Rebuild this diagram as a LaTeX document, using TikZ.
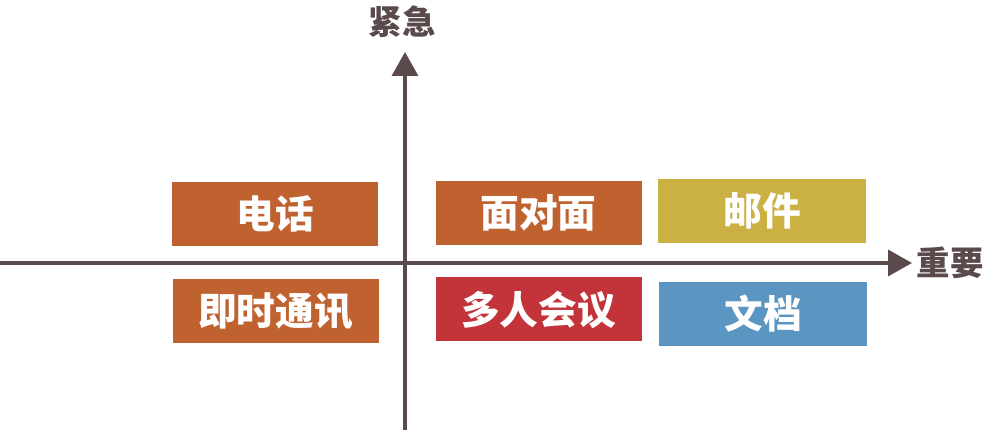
\documentclass[tikz,border=0pt]{standalone}
\usepackage{fontspec}
\setmainfont{Noto Sans CJK SC}
\usepackage{tikz}
\usetikzlibrary{arrows.meta}

\definecolor{axiscol}{HTML}{5A4A4C}
\definecolor{orangebox}{HTML}{C0622F}
\definecolor{redbox}{HTML}{C2343A}
\definecolor{yellowbox}{HTML}{CBB043}
\definecolor{bluebox}{HTML}{5B95C2}

\begin{document}
\begin{tikzpicture}[
	axis/.style={color=axiscol, line width=2pt, -{Triangle[length=0.48cm, width=0.52cm]}},
	axislabel/.style={text=axiscol, font=\fontsize{19pt}{19pt}\selectfont\bfseries},
	tag/.style={minimum width=4.12cm, minimum height=1.28cm, inner sep=0pt, text=white, font=\fontsize{22pt}{22pt}\selectfont\bfseries}]
	\useasboundingbox (0, 0) rectangle (20, 8.6);
	% axes
	\coordinate (ybot) at (8.1, 0);
	\coordinate (ytop) at (8.1, 7.56);
	\coordinate (xleft) at (0, 3.34);
	\coordinate (xright) at (18.24, 3.34);
	\draw [axis] (ybot) -- (ytop);
	\draw [axis] (xleft) -- (xright);
	\node [axislabel] (urgent) at (8.04, 8.16) {紧急};
	\node [axislabel] (important) at (19.0, 3.34) {重要};
	% quadrants
	\node [tag, fill=orangebox] (phone) at (5.5, 4.32) {电话};
	\node [tag, fill=orangebox] (face) at (10.77, 4.34) {面对面};
	\node [tag, fill=yellowbox, minimum width=4.16cm] (mail) at (15.24, 4.38) {邮件};
	\node [tag, fill=orangebox] (im) at (5.51, 2.38) {即时通讯};
	\node [tag, fill=redbox] (meeting) at (10.77, 2.41) {多人会议};
	\node [tag, fill=bluebox, minimum width=4.16cm] (doc) at (15.26, 2.32) {文档};
\end{tikzpicture}
\end{document}
